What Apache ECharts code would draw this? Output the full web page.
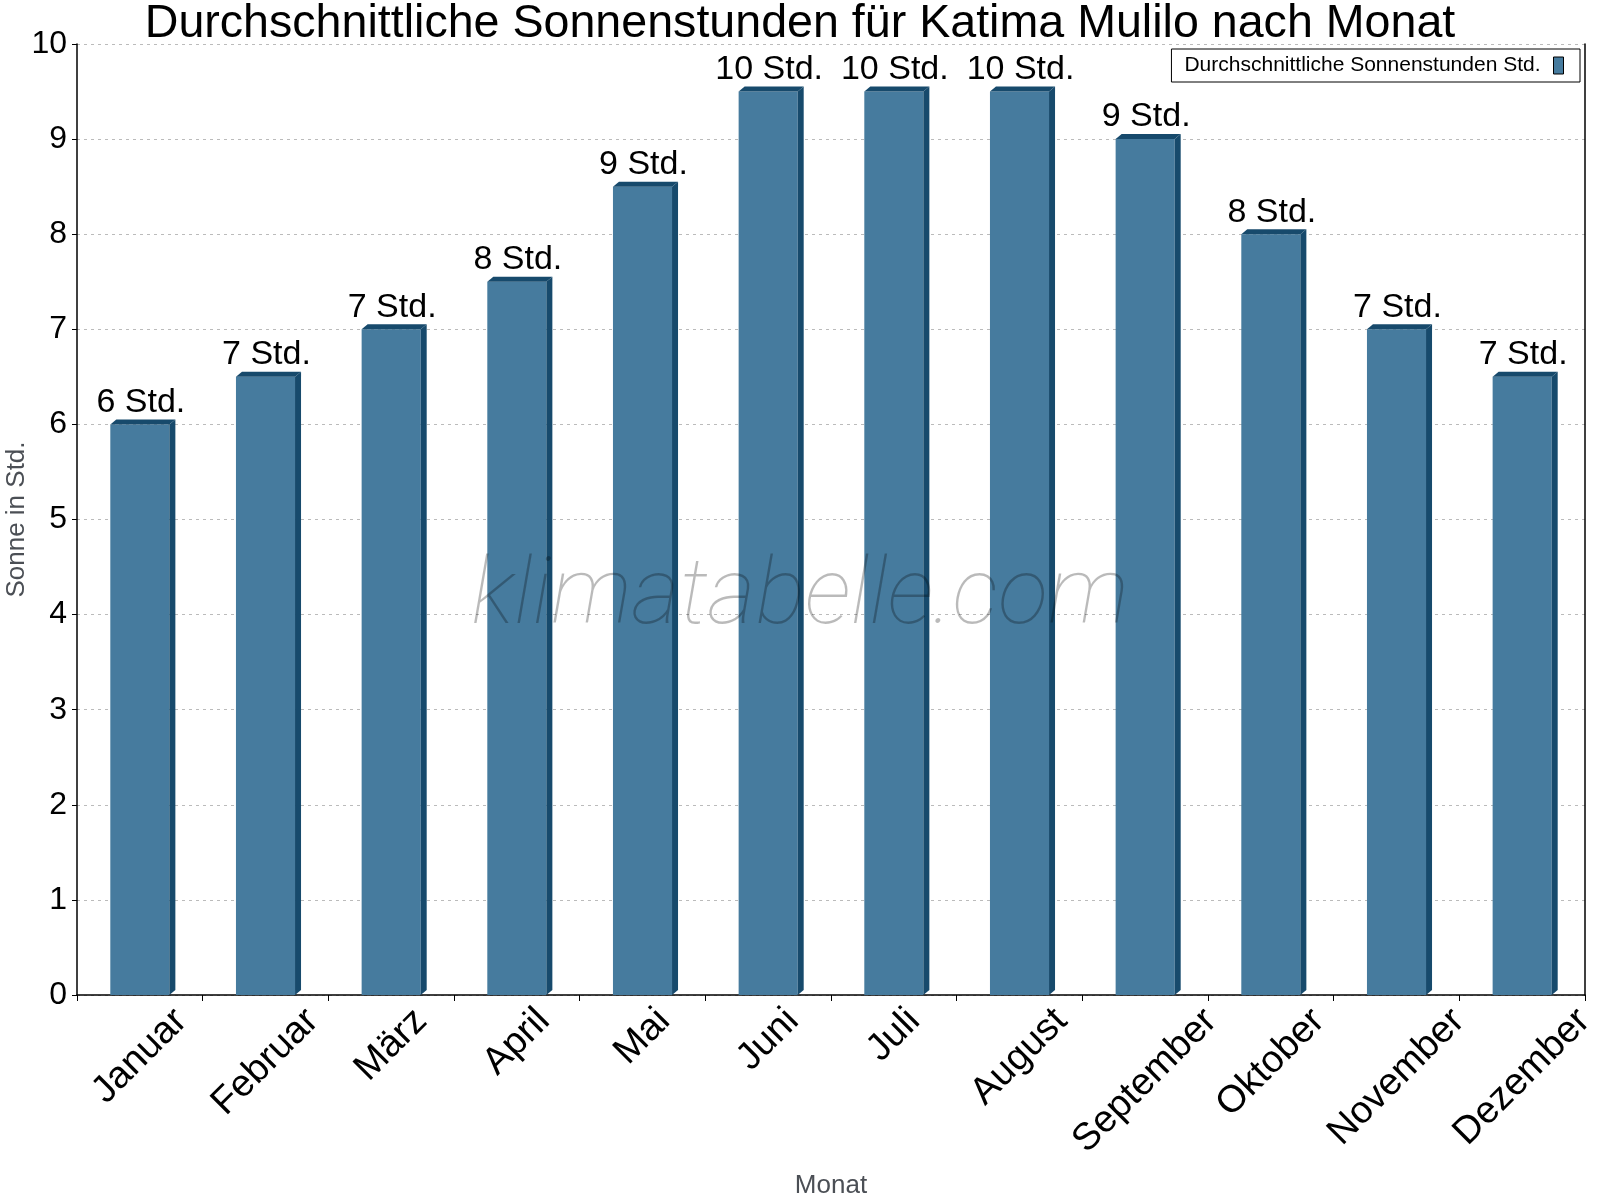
<!DOCTYPE html>
<html>
<head>
<meta charset="utf-8">
<title>Sonnenstunden Katima Mulilo</title>
<script src="https://cdn.jsdelivr.net/npm/echarts@6/dist/echarts.min.js"></script>
<style>
  html, body { margin: 0; padding: 0; background: #fff; }
  #chart { width: 1600px; height: 1200px; }
</style>
</head>
<body>
<div id="chart"></div>
<script>
const months = ['Januar', 'Februar', 'März', 'April', 'Mai', 'Juni', 'Juli', 'August', 'September', 'Oktober', 'November', 'Dezember'];
const sunHours = [6, 6.5, 7, 7.5, 8.5, 9.5, 9.5, 9.5, 9, 8, 7, 6.5];
const yTicks = [0, 1, 2, 3, 4, 5, 6, 7, 8, 9, 10];
const seriesName = 'Durchschnittliche Sonnenstunden Std.';

const FONT = '"Liberation Sans", Arial, sans-serif';
const frontColor = '#467b9e';
const darkColor = '#174a6c';
const monthFontSize = 38;

// rotated month labels: bounding box centred on the category, top edge fixed
const ctx = document.createElement('canvas').getContext('2d');
ctx.font = monthFontSize + 'px "Liberation Sans"';
const monthWidths = months.map(m => ctx.measureText(m).width);

const chart = echarts.init(document.getElementById('chart'));

const option = {
  backgroundColor: '#fff',
  animation: false,
  textStyle: { fontFamily: FONT },
  title: {
    text: 'Durchschnittliche Sonnenstunden für Katima Mulilo nach Monat',
    left: 'center',
    top: -4,
    textStyle: { fontSize: 46.6, fontWeight: 'normal', color: '#000', fontFamily: FONT },
  },
  legend: {
    data: [{ name: seriesName, icon: 'rect' }],
    right: 20,
    top: 49,
    align: 'right',
    itemWidth: 10,
    itemHeight: 17,
    padding: [6, 16, 6, 13],
    borderColor: '#000',
    borderWidth: 1,
    itemStyle: { borderColor: '#000', borderWidth: 1 },
    textStyle: { fontSize: 21, color: '#000', fontFamily: FONT, padding: [0, 8, 0, 0] },
  },
  grid: {
    left: 77,
    right: 15,
    top: 44,
    bottom: 205,
    containLabel: false,
    outerBoundsMode: 'none',
  },
  xAxis: {
    type: 'category',
    data: months,
    name: 'Monat',
    nameLocation: 'middle',
    nameGap: 178,
    nameMoveOverlap: false,
    nameTextStyle: { fontSize: 26, color: '#4b4f55', fontFamily: FONT },
    axisLine: { show: true, lineStyle: { color: '#000', width: 1.5 } },
    axisTick: { show: true, length: 6, lineStyle: { color: '#000' } },
    axisLabel: { show: false },
    splitLine: { show: false },
  },
  yAxis: [
    {
      type: 'value',
      min: yTicks[0],
      max: yTicks[yTicks.length - 1],
      interval: 1,
      name: 'Sonne in Std.',
      nameLocation: 'middle',
      nameGap: 47,
      nameMoveOverlap: false,
      nameTextStyle: { fontSize: 26, color: '#4b4f55', fontFamily: FONT },
      axisLine: { show: true, lineStyle: { color: '#000', width: 1.5 } },
      axisTick: { show: true, length: 5, lineStyle: { color: '#000' } },
      axisLabel: { fontSize: 32, color: '#000', margin: 10, fontFamily: FONT },
      splitLine: { show: true, lineStyle: { color: '#bbb', type: [3, 4], width: 1 } },
    },
    {
      type: 'value',
      position: 'right',
      min: yTicks[0],
      max: yTicks[yTicks.length - 1],
      interval: 1,
      axisLine: { show: true, lineStyle: { color: '#000', width: 1.5 } },
      axisTick: { show: false },
      axisLabel: { show: false },
      splitLine: { show: false },
    },
  ],
  series: [
    {
      name: seriesName,
      type: 'custom',
      itemStyle: { color: frontColor },
      encode: { x: 0, y: 1 },
      clip: false,
      data: sunHours.map((v, i) => [i, v]),
      renderItem(params, api) {
        const idx = api.value(0);
        const val = api.value(1);
        const top = api.coord([idx, val]);
        const base = api.coord([idx, 0]);
        const bw = api.size([1, 0])[0] * 0.47;
        const x0 = top[0] - bw / 2;
        const x1 = x0 + bw;
        const dx = 6, dy = 5;
        const lw = monthWidths[idx];
        return {
          type: 'group',
          children: [
            {
              type: 'rect',
              shape: { x: x0, y: top[1], width: bw, height: base[1] - top[1] },
              style: { fill: frontColor },
            },
            {
              type: 'polygon',
              shape: { points: [[x0, top[1]], [x0 + dx, top[1] - dy], [x1 + dx, top[1] - dy], [x1, top[1]]] },
              style: { fill: darkColor },
            },
            {
              type: 'polygon',
              shape: { points: [[x1, top[1]], [x1 + dx, top[1] - dy], [x1 + dx, base[1] - dy], [x1, base[1]]] },
              style: { fill: darkColor },
            },
            {
              type: 'text',
              x: top[0] + 1,
              y: top[1] - 5,
              style: {
                text: Math.round(val) + ' Std.',
                align: 'center',
                verticalAlign: 'bottom',
                fontSize: 34,
                fontFamily: FONT,
                fill: '#000',
              },
            },
            {
              type: 'text',
              x: base[0],
              y: base[1] + 10 + 0.3536 * (lw + 0.75 * monthFontSize),
              rotation: Math.PI / 4,
              style: {
                text: months[idx],
                align: 'center',
                verticalAlign: 'middle',
                fontSize: monthFontSize,
                fontFamily: FONT,
                fill: '#000',
              },
            },
          ],
        };
      },
    },
  ],
  graphic: [
    {
      type: 'text',
      left: 'center',
      top: 553,
      z: 100,
      silent: true,
      style: {
        text: 'klimatabelle.com',
        fontSize: 93,
        fontStyle: 'italic',
        fontWeight: 100,
        fontFamily: 'Roboto, sans-serif',
        fill: 'rgba(0,0,0,0.27)',
      },
    },
  ],
};

chart.setOption(option);
</script>
</body>
</html>
